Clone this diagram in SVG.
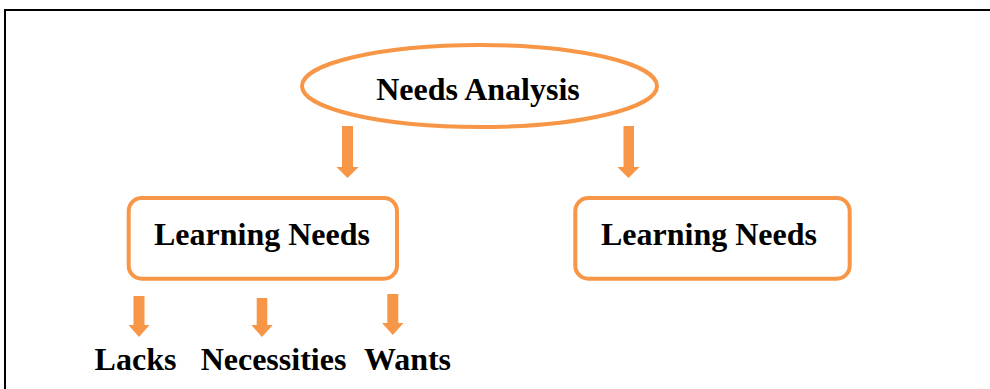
<svg xmlns="http://www.w3.org/2000/svg" width="990" height="389" viewBox="0 0 990 389">
<style>
.nd{fill:#fff;stroke:#F79646;stroke-width:4}
.t{font-family:"Liberation Serif","Times New Roman",serif;font-weight:bold;font-size:32px;fill:#000;text-anchor:middle}
.ar{fill:#F79646}
</style>
<rect x="0" y="0" width="990" height="389" fill="#fff"/>
<rect x="5" y="10" width="1000" height="400" fill="none" stroke="#000" stroke-width="2"/>
<g id="needs-analysis">
<ellipse class="nd" cx="479.5" cy="86" rx="177.5" ry="41"/>
<text class="t" x="478" y="100">Needs Analysis</text>
</g>
<g id="learning-needs-1">
<rect class="nd" x="128.7" y="198" width="268.3" height="80.7" rx="13"/>
<text class="t" x="262" y="245">Learning Needs</text>
</g>
<g id="learning-needs-2">
<rect class="nd" x="575.3" y="198" width="274.4" height="80.7" rx="13"/>
<text class="t" x="709" y="245">Learning Needs</text>
</g>
<g id="lacks"><text class="t" x="135.5" y="370">Lacks</text></g>
<g id="necessities"><text class="t" x="273.5" y="370">Necessities</text></g>
<g id="wants"><text class="t" x="407.5" y="370">Wants</text></g>
<g id="connectors">
<polygon class="ar" points="342,126 353,126 353,167 358.5,167 347.5,178 336.5,167 342,167"/>
<polygon class="ar" points="623.5,126 634,126 634,167 639.5,167 628.5,178 617.5,167 623.5,167"/>
<polygon class="ar" points="133.5,296 144.5,296 144.5,325 149.5,325 139,337 128.5,325 133.5,325"/>
<polygon class="ar" points="256.7,298 267.3,298 267.3,325 272.7,325 262,337 251.3,325 256.7,325"/>
<polygon class="ar" points="387.3,294 398.3,294 398.3,323 403.5,323 392.8,335 382,323 387.3,323"/>
</g>
</svg>
